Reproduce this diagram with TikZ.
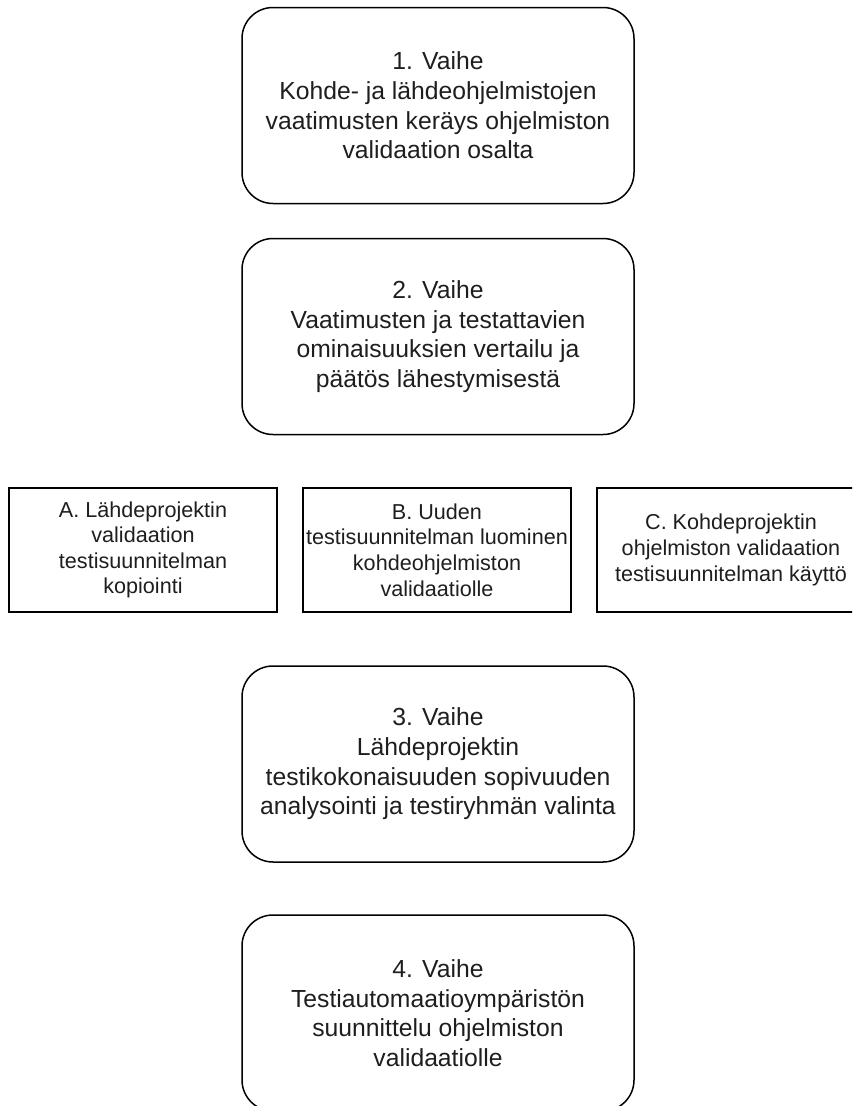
\documentclass[tikz,border=0pt]{standalone}
\usepackage{fontspec}
\setmainfont{Liberation Sans}
\definecolor{ink}{RGB}{30,30,30}
\begin{document}
\begin{tikzpicture}[x=1pt,y=-1pt,
  phase/.style={draw=black, line width=1.5pt, rounded corners=31pt,
    minimum width=392pt, minimum height=196pt, align=center, text=ink,
    inner sep=0pt, font=\fontsize{24.7}{29.6}\selectfont},
  option/.style={draw=black, line width=1.5pt,
    minimum width=268pt, minimum height=124pt, align=center, text=ink,
    inner sep=0pt, font=\fontsize{21.6}{25.6}\selectfont}]
\useasboundingbox (0,0) rectangle (852,1106);
\clip (0,0) rectangle (852,1106);

% main phases
\node[phase] (p1) at (438,105.5) {1. Vaihe\\Kohde- ja lähdeohjelmistojen\\vaatimusten keräys ohjelmiston\\validaation osalta};
\node[phase] (p2) at (438,336.5) {2. Vaihe\\Vaatimusten ja testattavien\\ominaisuuksien vertailu ja\\päätös lähestymisestä};

% alternative approaches
\node[option] (oa) at (143,550) {A. Lähdeprojektin\\validaation\\testisuunnitelman\\kopiointi};
\node[option] (ob) at (437,550) {B. Uuden\\testisuunnitelman luominen\\kohdeohjelmiston\\validaatiolle};
\node[option] (oc) at (731,550) {C. Kohdeprojektin\\ohjelmiston validaation\\testisuunnitelman käyttö};

\node[phase] (p3) at (438,764) {3. Vaihe\\Lähdeprojektin\\testikokonaisuuden sopivuuden\\analysointi ja testiryhmän valinta};
\node[phase] (p4) at (438,1013) {4. Vaihe\\Testiautomaatioympäristön\\suunnittelu ohjelmiston\\validaatiolle};
\end{tikzpicture}
\end{document}
